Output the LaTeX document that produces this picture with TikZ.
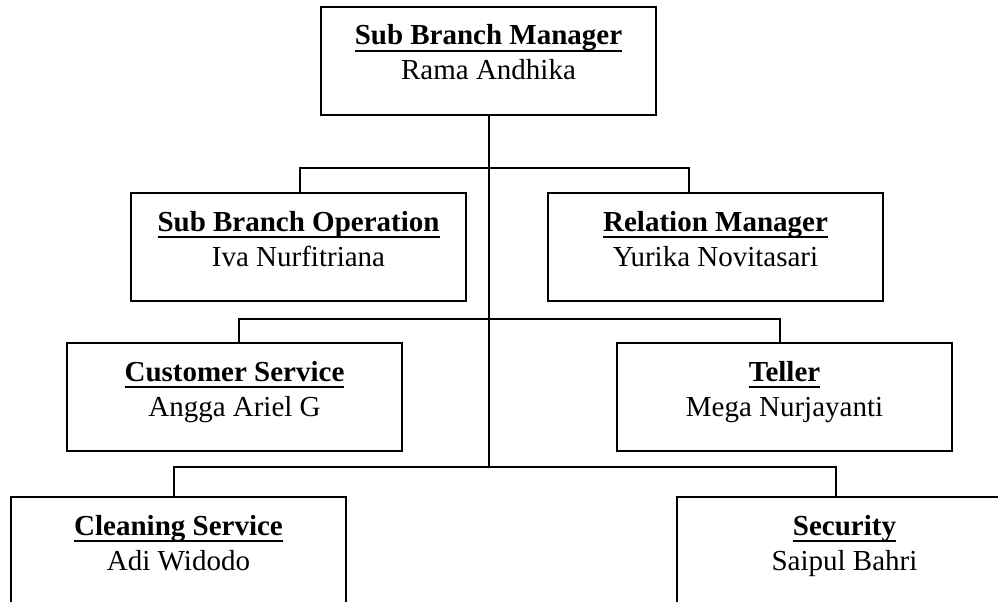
\documentclass[tikz,border=0pt]{standalone}
\usepackage{fontspec}
\setmainfont{Liberation Serif}
\newcommand\myul[1]{\setbox0\hbox{#1}\rlap{\rule[-6.7pt]{\wd0}{2pt}}\box0}
\tikzset{
  orgbox/.style={draw, line width=1.6pt, rectangle, inner sep=0pt, outer sep=0pt,
    minimum width=335pt, minimum height=108pt, text height=38pt, text depth=70pt,
    anchor=north west, font=\fontsize{29}{35}\selectfont\bfseries},
  person/.style={anchor=base, inner sep=0pt, font=\fontsize{29}{35}\selectfont},
  conn/.style={line width=1.6pt}
}
\begin{document}
\begin{tikzpicture}[x=1pt,y=-1pt]
\useasboundingbox (0,0) rectangle (998,602);
\clip (0,0) rectangle (998,602);
\fill[white] (0,0) rectangle (998,602);

\node[orgbox] (sbm) at (321,7) {\myul{Sub Branch Manager}};
\node[person] (sbmn) at ([yshift=-35pt]sbm.base) {Rama Andhika};

\node[orgbox] (sbo) at (131,193) {\myul{Sub Branch Operation}};
\node[person] (sbon) at ([yshift=-35pt]sbo.base) {Iva Nurfitriana};

\node[orgbox] (rm) at (548,193) {\myul{Relation Manager}};
\node[person] (rmn) at ([yshift=-35pt]rm.base) {Yurika Novitasari};

\node[orgbox] (cs) at (67,343) {\myul{Customer Service}};
\node[person] (csn) at ([yshift=-35pt]cs.base) {Angga Ariel G};

\node[orgbox] (tel) at (617,343) {\myul{Teller}};
\node[person] (teln) at ([yshift=-35pt]tel.base) {Mega Nurjayanti};

\node[orgbox] (cls) at (11,497) {\myul{Cleaning Service}};
\node[person] (clsn) at ([yshift=-35pt]cls.base) {Adi Widodo};

\node[orgbox] (sec) at (677,497) {\myul{Security}};
\node[person] (secn) at ([yshift=-35pt]sec.base) {Saipul Bahri};

\coordinate (j2l) at (300,168);
\coordinate (j2r) at (689,168);
\coordinate (j3l) at (239,319);
\coordinate (j3r) at (780,319);
\coordinate (j4l) at (174,467);
\coordinate (j4r) at (836,467);
\coordinate (trunk) at (489,467);

\draw[conn] (trunk |- sbm.south) -- (trunk);
\draw[conn] (j2l |- sbo.north) -- (j2l) -- (j2r) -- (j2r |- rm.north);
\draw[conn] (j3l |- cs.north) -- (j3l) -- (j3r) -- (j3r |- tel.north);
\draw[conn] (j4l |- cls.north) -- (j4l) -- (j4r) -- (j4r |- sec.north);
\end{tikzpicture}
\end{document}
